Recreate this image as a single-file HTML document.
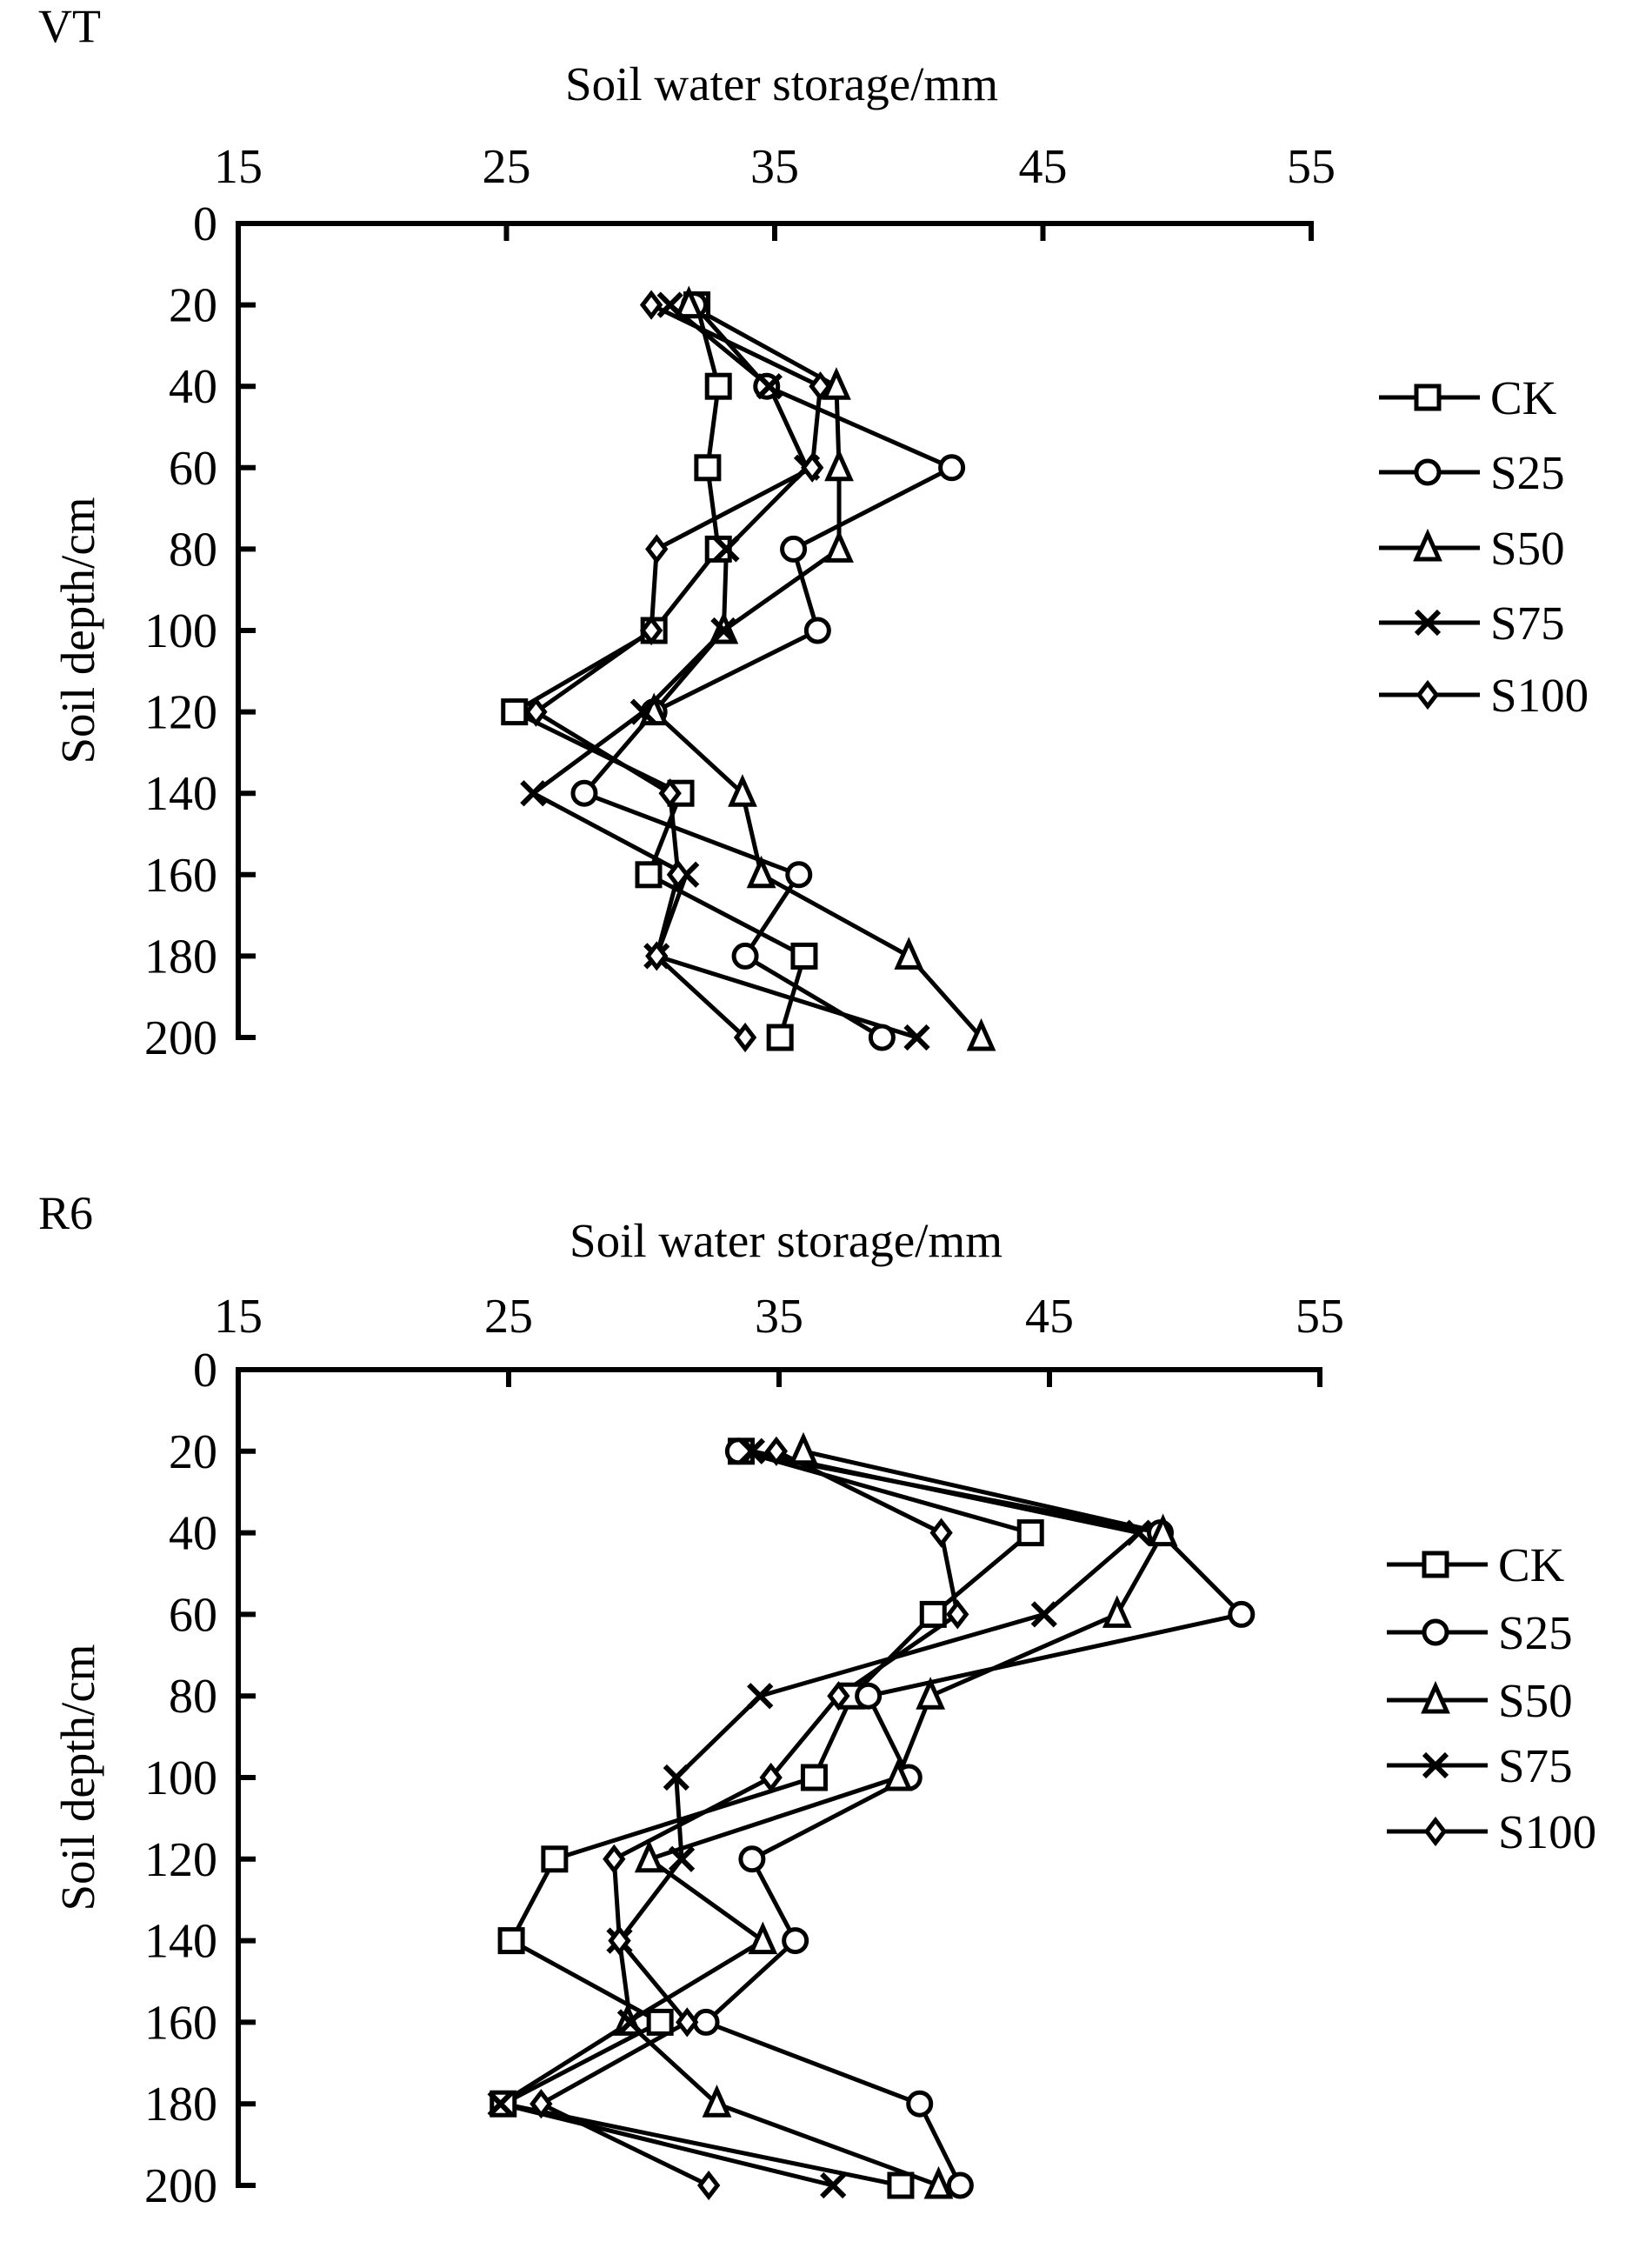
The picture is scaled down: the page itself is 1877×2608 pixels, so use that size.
<!DOCTYPE html>
<html><head><meta charset="utf-8"><style>
html,body{margin:0;padding:0;background:#fff;}
svg{display:block;font-family:"Liberation Serif",serif;}
</style></head><body>
<svg id="s" width="1877" height="2608" viewBox="0 0 1877 2608" xmlns="http://www.w3.org/2000/svg"></svg>
<script>
const NS="http://www.w3.org/2000/svg";
const svg=document.getElementById('s');
function el(t,a,txt){const e=document.createElementNS(NS,t);for(const k in a)e.setAttribute(k,a[k]);if(txt!==undefined)e.textContent=txt;svg.appendChild(e);return e;}
function marker(type,x,y){
  const r=13,st={fill:'#fff',stroke:'#000','stroke-width':5};
  if(type==='sq')el('rect',Object.assign({x:x-r,y:y-r,width:2*r,height:2*r},st));
  else if(type==='ci')el('circle',Object.assign({cx:x,cy:y,r:r},st));
  else if(type==='tr')el('polygon',Object.assign({points:`${x},${y-r-3} ${x-r},${y+r} ${x+r},${y+r}`},st));
  else if(type==='x'){el('path',{d:`M${x-r} ${y-r}L${x+r} ${y+r}M${x-r} ${y+r}L${x+r} ${y-r}`,stroke:'#000','stroke-width':6});}
  else if(type==='di')el('polygon',Object.assign({points:`${x},${y-r} ${x+r-3},${y} ${x},${y+r} ${x-r+3},${y}`},st));
}
const types=['sq','ci','tr','x','di'],names=['CK','S25','S50','S75','S100'];
function chart(o){
  const X=v=>o.x0+(v-15)*(o.x1-o.x0)/40, Y=d=>o.y0+d*(o.y1-o.y0)/200;
  el('text',{x:44,y:o.ly,'font-size':54},o.label);
  el('text',{x:(o.x0+o.x1)/2+8,y:o.ty,'font-size':55,'text-anchor':'middle'},'Soil water storage/mm');
  [15,25,35,45,55].forEach(v=>{el('text',{x:X(v),y:o.tky,'font-size':56,'text-anchor':'middle'},v);
    if(v>15)el('line',{x1:X(v),y1:o.y0,x2:X(v),y2:o.y0+20,stroke:'#000','stroke-width':6});});
  el('line',{x1:o.x0-3,y1:o.y0,x2:o.x1+3,y2:o.y0,stroke:'#000','stroke-width':6});
  el('line',{x1:o.x0,y1:o.y0,x2:o.x0,y2:o.y1+3,stroke:'#000','stroke-width':6});
  for(let d=0;d<=200;d+=20){el('text',{x:o.x0-24,y:Y(d)+19,'font-size':56,'text-anchor':'end'},d);
    if(d>0)el('line',{x1:o.x0,y1:Y(d),x2:o.x0+20,y2:Y(d),stroke:'#000','stroke-width':6});}
  const cy=(o.y0+o.y1)/2;
  el('text',{x:0,y:0,'font-size':55,'text-anchor':'middle',transform:`translate(${o.yl},${cy}) rotate(-90)`},'Soil depth/cm');
  o.data.forEach((s,i)=>{
    const pts=s.map((v,j)=>[X(v),Y(20*(j+1))]);
    el('polyline',{points:pts.map(p=>p.join(',')).join(' '),fill:'none',stroke:'#000','stroke-width':5});
  });
  o.data.forEach((s,i)=>{s.forEach((v,j)=>marker(types[i],X(v),Y(20*(j+1))));});
  o.leg.forEach((yy,i)=>{
    el('line',{x1:o.lg0,y1:yy,x2:o.lg0+116,y2:yy,stroke:'#000','stroke-width':5});
    marker(types[i],o.lg0+56,yy);
    el('text',{x:o.lg0+128,y:yy+19,'font-size':55},names[i]);
  });
}
chart({label:'VT',ly:48,ty:115,tky:210,x0:274,x1:1508,y0:257,y1:1193,yl:108,lg0:1586,
 leg:[457,543,630,716,799],
 data:[
 [32.1,32.9,32.5,32.9,30.5,25.3,31.5,30.3,36.1,35.2],
 [32.0,34.7,41.6,35.7,36.6,30.5,27.9,35.9,33.9,39.0],
 [31.8,37.3,37.4,37.4,33.1,30.5,33.8,34.5,40.0,42.7],
 [31.1,34.8,36.2,33.2,33.1,30.1,26.0,31.7,30.6,40.3],
 [30.4,36.7,36.4,30.6,30.4,26.1,31.1,31.4,30.6,33.9]]});
chart({label:'R6',ly:1413,ty:1445,tky:1532,x0:274,x1:1518,y0:1575,y1:2513,yl:108,lg0:1595,
 leg:[1799,1877,1955,2030,2106],
 data:[
 [33.6,44.3,40.7,37.7,36.3,26.7,25.1,30.6,24.8,39.5],
 [33.5,49.1,52.1,38.3,39.8,34.0,35.6,32.3,40.2,41.7],
 [35.9,49.2,47.5,40.6,39.4,30.2,34.4,29.4,32.7,40.9],
 [34.0,48.3,44.8,34.3,31.2,31.4,29.1,29.5,24.7,37.0],
 [34.9,41.0,41.6,37.2,34.7,28.9,29.1,31.6,26.2,32.4]]});
</script>
</body></html>
